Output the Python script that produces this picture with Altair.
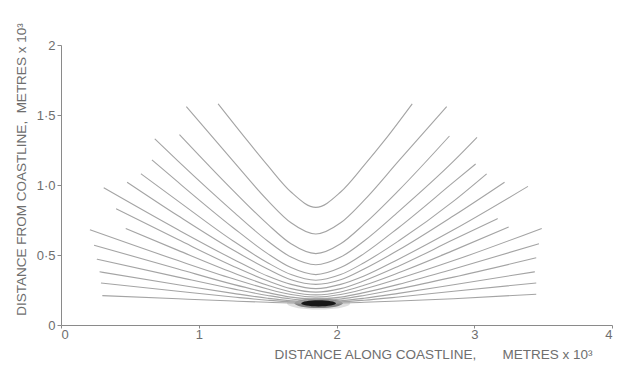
import altair as alt
import pandas as pd

# Curves (x: along coastline, y: from coastline, both x10^3 m)
curve_x = [
    [1.14, 1.35, 1.50, 1.67, 1.85, 2.03, 2.20, 2.35, 2.55],
    [0.91, 1.25, 1.50, 1.67, 1.85, 2.03, 2.20, 2.45, 2.80],
    [0.86, 1.25, 1.50, 1.67, 1.85, 2.03, 2.20, 2.45, 2.82],
    [0.68, 0.85, 1.25, 1.50, 1.67, 1.85, 2.03, 2.20, 2.45, 2.85, 3.02],
    [0.66, 0.85, 1.25, 1.50, 1.67, 1.85, 2.03, 2.20, 2.45, 2.85, 3.01],
    [0.58, 0.85, 1.25, 1.50, 1.67, 1.85, 2.03, 2.20, 2.45, 2.85, 3.09],
    [0.48, 0.85, 1.25, 1.50, 1.67, 1.85, 2.03, 2.20, 2.45, 2.85, 3.22],
    [0.31, 0.85, 1.25, 1.50, 1.67, 1.85, 2.03, 2.20, 2.45, 2.85, 3.39],
    [0.40, 0.85, 1.25, 1.50, 1.67, 1.85, 2.03, 2.20, 2.45, 2.85, 3.17],
    [0.47, 0.85, 1.25, 1.50, 1.67, 1.85, 2.03, 2.20, 2.45, 2.85, 3.25],
    [0.21, 0.85, 1.25, 1.50, 1.67, 1.85, 2.03, 2.20, 2.45, 2.85, 3.49],
    [0.24, 0.85, 1.25, 1.50, 1.67, 1.85, 2.03, 2.20, 2.45, 2.85, 3.47],
    [0.26, 0.85, 1.25, 1.50, 1.67, 1.85, 2.03, 2.20, 2.45, 2.85, 3.45],
    [0.28, 0.85, 1.25, 1.50, 1.67, 1.85, 2.03, 2.20, 2.45, 2.85, 3.44],
    [0.29, 0.85, 1.25, 1.50, 1.67, 1.85, 2.03, 2.20, 2.45, 2.85, 3.45],
    [0.30, 0.85, 1.25, 1.50, 1.67, 1.85, 2.03, 2.20, 2.45, 2.85, 3.45],
]
curve_y = [
    [1.58, 1.32, 1.14, 0.95, 0.84, 0.95, 1.14, 1.32, 1.58],
    [1.56, 1.17, 0.89, 0.73, 0.65, 0.73, 0.89, 1.17, 1.56],
    [1.36, 0.96, 0.72, 0.58, 0.51, 0.58, 0.72, 0.96, 1.35],
    [1.33, 1.17, 0.81, 0.60, 0.485, 0.43, 0.485, 0.60, 0.81, 1.17, 1.34],
    [1.18, 1.02, 0.695, 0.51, 0.41, 0.36, 0.41, 0.51, 0.695, 1.02, 1.15],
    [1.08, 0.885, 0.60, 0.445, 0.36, 0.32, 0.36, 0.445, 0.60, 0.885, 1.08],
    [1.02, 0.78, 0.535, 0.40, 0.323, 0.29, 0.323, 0.40, 0.535, 0.78, 1.02],
    [0.98, 0.68, 0.47, 0.35, 0.29, 0.26, 0.29, 0.35, 0.47, 0.68, 0.99],
    [0.83, 0.61, 0.42, 0.316, 0.26, 0.235, 0.26, 0.316, 0.42, 0.61, 0.76],
    [0.69, 0.533, 0.373, 0.284, 0.236, 0.215, 0.236, 0.284, 0.373, 0.533, 0.70],
    [0.68, 0.46, 0.33, 0.257, 0.218, 0.20, 0.218, 0.257, 0.33, 0.46, 0.69],
    [0.57, 0.40, 0.29, 0.231, 0.199, 0.185, 0.199, 0.231, 0.29, 0.40, 0.58],
    [0.47, 0.342, 0.258, 0.211, 0.186, 0.175, 0.186, 0.211, 0.258, 0.342, 0.48],
    [0.38, 0.288, 0.226, 0.191, 0.173, 0.165, 0.173, 0.191, 0.226, 0.288, 0.38],
    [0.30, 0.241, 0.200, 0.177, 0.165, 0.160, 0.165, 0.177, 0.200, 0.241, 0.30],
    [0.21, 0.187, 0.171, 0.162, 0.157, 0.155, 0.157, 0.162, 0.171, 0.187, 0.22],
]

# dark convergence spot near the coast
spot_x = [1.87]
spot_y = [0.155]

x_ticks = [0, 1, 2, 3, 4]
y_ticks = [0, 0.5, 1.0, 1.5, 2.0]

rows = []
for i, (xs, ys) in enumerate(zip(curve_x, curve_y)):
    for j, (xv, yv) in enumerate(zip(xs, ys)):
        rows.append({"curve": i, "k": j, "x": xv, "y": yv})
df = pd.DataFrame(rows)
spot = pd.DataFrame({"x": spot_x, "y": spot_y})

FONT = "Liberation Sans"
GRAY = "#6e6e6e"
NB = "\u00a0"

xscale = alt.Scale(domain=[0, 4], nice=False, zero=False)
yscale = alt.Scale(domain=[0, 2], nice=False, zero=False)

xaxis = alt.Axis(
    values=x_ticks, grid=False, labelExpr="format(datum.value, 'd')",
    labelPadding=0, tickSize=3,
    title="DISTANCE ALONG COASTLINE," + NB * 7 + "METRES x 10³",
    titleX=372, titleY=29, titleAlign="center", titleBaseline="middle",
)
yaxis = alt.Axis(
    values=y_ticks, grid=False,
    labelExpr="datum.value == 0 ? '0' : datum.value == 2 ? '2' : replace(format(datum.value, '.1f'), '.', '·')",
    title="DISTANCE FROM COASTLINE," + NB * 2 + "METRES x 10³",
    titleX=-40, titleY=124, titleAlign="center", titleBaseline="middle", titleAngle=-90,
)

lines = alt.Chart(df).mark_line(
    interpolate="monotone", color="#a4a4a4", strokeWidth=1.1
).encode(
    x=alt.X("x:Q", scale=xscale, axis=xaxis),
    y=alt.Y("y:Q", scale=yscale, axis=yaxis),
    detail="curve:N",
    order="k:Q",
)

ell = "M -1 0 A 1 0.2 0 1 0 1 0 A 1 0.2 0 1 0 -1 0 Z"
spot1 = alt.Chart(spot).mark_point(shape=ell, filled=True, color="#c4c4c4", opacity=0.55, size=4000).encode(
    x=alt.X("x:Q", scale=xscale), y=alt.Y("y:Q", scale=yscale))
spot2 = alt.Chart(spot).mark_point(shape=ell, filled=True, color="#5a5a5a", opacity=0.7, size=2300).encode(
    x=alt.X("x:Q", scale=xscale), y=alt.Y("y:Q", scale=yscale))
spot3 = alt.Chart(spot).mark_point(shape="M -1 0 A 1 0.18 0 1 0 1 0 A 1 0.18 0 1 0 -1 0 Z",
                                   filled=True, color="#111111", opacity=0.95, size=1200).encode(
    x=alt.X("x:Q", scale=xscale), y=alt.Y("y:Q", scale=yscale))

chart = alt.layer(spot1, spot2, lines, spot3).properties(
    width=551, height=280,
    padding={"left": 53, "top": 37, "right": 4, "bottom": 36},
    autosize="none",
    background="white",
).configure_view(stroke=None).configure_axis(
    domainColor="#8a8a8a", tickColor="#8a8a8a", tickSize=4, labelPadding=2,
    labelFont=FONT, labelFontSize=13, labelColor=GRAY,
    titleFont=FONT, titleFontSize=13.5, titleColor=GRAY, titleFontWeight="normal",
)

chart.save("out.html", embed_options={"renderer": "svg", "actions": False})
